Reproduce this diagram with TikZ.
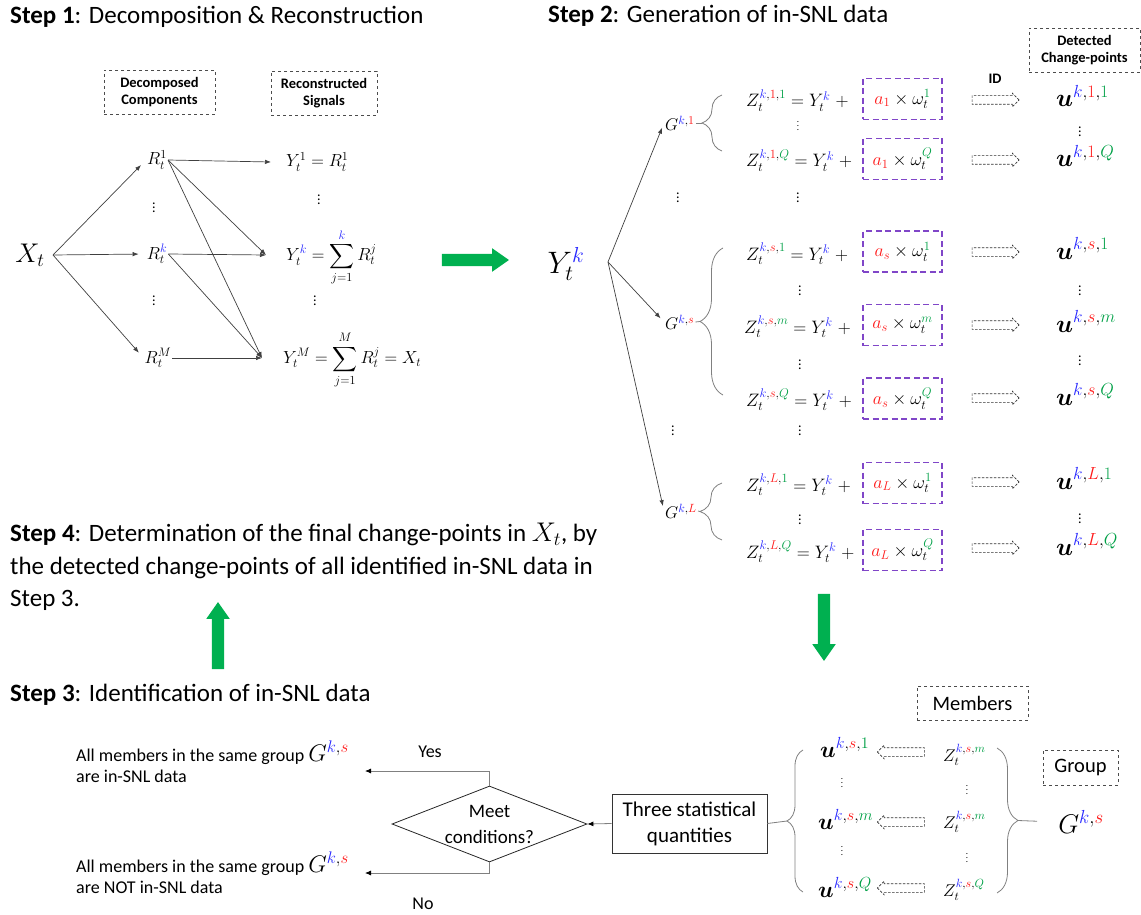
\RequirePackage{fix-cm}
\documentclass[tikz,border=0pt]{standalone}
\usepackage{amsmath}
\usepackage{fontspec}
\setmainfont{Carlito}
\usetikzlibrary{arrows.meta,shapes.geometric,shapes.arrows,decorations.pathreplacing}

\definecolor{kblue}{RGB}{40,40,255}
\definecolor{sred}{RGB}{255,25,25}
\definecolor{qgreen}{RGB}{0,160,70}
\definecolor{boxpurple}{RGB}{128,70,200}
\definecolor{stepgreen}{RGB}{0,176,80}

\newcommand{\blu}[1]{{\color{kblue}#1}}
\newcommand{\rdd}[1]{{\color{sred}#1}}
\newcommand{\grn}[1]{{\color{qgreen}#1}}

\tikzset{
	steptitle/.style={anchor=west, inner sep=0pt, font=\fontsize{25}{31}\selectfont},
	namebox/.style={draw=black!70, dashed, align=center, inner sep=3pt, font=\fontsize{14.5}{17}\selectfont\bfseries},
	tagbox/.style={draw=black!70, dashed, inner sep=3pt, font=\fontsize{20.5}{24}\selectfont},
	conn/.style={draw=black!75, line width=0.7pt, -{Latex[length=6pt,width=4.5pt]}},
	grpline/.style={draw=black!50, line width=0.8pt},
	grpbrace/.style={draw=black!50, line width=0.8pt, decorate, decoration={brace, amplitude=#1}},
	vd/.style={inner sep=0pt, font=\fontsize{14}{14}\selectfont},
	vdsmall/.style={inner sep=0pt, font=\fontsize{9}{9}\selectfont},
	comp/.style={inner sep=1pt, font=\fontsize{17.5}{17.5}\selectfont},
	grp/.style={inner sep=1pt, font=\fontsize{17}{17}\selectfont},
	zeq/.style={inner sep=1pt, anchor=base west, font=\fontsize{18}{18}\selectfont},
	cpt/.style={inner sep=1pt, anchor=base west, font=\fontsize{25}{25}\selectfont},
	cptsm/.style={cpt, font=\fontsize{23}{23}\selectfont},
	zsm/.style={inner sep=1pt, anchor=base west, font=\fontsize{17}{17}\selectfont},
	noisebox/.style={draw=boxpurple, line width=1.6pt, dash pattern=on 6pt off 3.5pt, minimum width=79pt, minimum height=41pt, inner sep=0pt, font=\fontsize{18}{20}\selectfont},
	idarrow/.style={single arrow, draw=black!80, line width=0.6pt, dash pattern=on 2.5pt off 1.5pt, minimum height=47pt, minimum width=13pt, single arrow head extend=2.5pt, inner sep=4pt},
	idarrowleft/.style={idarrow, shape border rotate=180},
	bigarrow/.style={single arrow, fill=stepgreen, minimum height=67pt, minimum width=23pt, single arrow head extend=5.5pt, single arrow tip angle=70, inner sep=6pt},
	statbox/.style={draw=black!80, line width=0.8pt, minimum width=155pt, minimum height=59pt, align=center, inner sep=0pt, font=\fontsize{21}{26}\selectfont},
	cond/.style={diamond, draw=black!85, line width=0.8pt, minimum width=195pt, minimum height=76pt, inner sep=0pt},
	condtext/.style={align=center, inner sep=0pt, font=\fontsize{19}{26}\selectfont},
	flow/.style={draw=black!50, line width=0.8pt, -{Latex[length=6pt,width=5pt,color=black]}},
	flowlabel/.style={inner sep=0pt, font=\fontsize{18}{22}\selectfont},
	outtext/.style={anchor=west, align=left, inner sep=0pt, font=\fontsize{18}{21}\selectfont}
}

\begin{document}
\begin{tikzpicture}[x=1pt,y=-1pt]
	\useasboundingbox (0,0) rectangle (1141,915);

	\node[steptitle] (title1) at (10,17) {\textbf{Step 1}: Decomposition \& Reconstruction};
	\node[namebox, minimum width=111pt, minimum height=44pt] (decbox) at (159.5,92) {Decomposed\\Components};
	\node[namebox, minimum width=106pt, minimum height=44pt] (recbox) at (324,93) {Reconstructed\\Signals};

	\node[inner sep=1pt, font=\fontsize{27}{27}\selectfont] (xt) at (30,255) {$X_t$};
	\coordinate (xsplit) at (53,255);
	\node[comp] (r1) at (157,160) {$R_t^1$};
	\node[comp] (rk) at (157,254) {$R_t^{\blu{k}}$};
	\node[comp] (rm) at (158,358) {$R_t^M$};
	\node[vd] (rv1) at (154,205) {$\vdots$};
	\node[vd] (rv2) at (154,298) {$\vdots$};
	\draw[conn, shorten >=7pt] (xsplit) -- (r1.west);
	\draw[conn, shorten >=7pt] (xsplit) -- (rk.west);
	\draw[conn, shorten >=7pt] (xsplit) -- (rm.west);

	\node[comp, anchor=west] (y1) at (285,162) {$Y_t^1 = R_t^1$};
	\node[comp, anchor=west] (yk) at (285,257) {$\displaystyle Y_t^{\blu{k}} = \sum_{j=1}^{\blu{k}} R_t^j$};
	\node[comp, anchor=west] (ym) at (282,360) {$\displaystyle Y_t^M = \sum_{j=1}^{M} R_t^j = X_t$};
	\node[vd] (yv1) at (319,197) {$\vdots$};
	\node[vd] (yv2) at (315,298) {$\vdots$};
	\coordinate (y1in) at (271,162);
	\coordinate (ykin) at (266,255);
	\coordinate (ymin) at (262,358);
	\draw[conn] (r1.east) -- (y1in);
	\draw[conn] (r1.east) -- (ykin);
	\draw[conn] (r1.east) -- (ymin);
	\draw[conn] (rk.east) -- (ykin);
	\draw[conn] (rk.east) -- (ymin);
	\draw[conn] (rm.east) -- (ymin);

	\node[bigarrow] (go12) at (471,260) {};

	\node[steptitle] (title2) at (548,16) {\textbf{Step 2}: Generation of in-SNL data};
	\node[namebox, minimum width=111pt, minimum height=44pt] (detbox) at (1084.5,50) {Detected\\Change-points};
	\node[inner sep=0pt, font=\fontsize{14.5}{17}\selectfont\bfseries] (idlabel) at (995,79) {ID};

	\node[inner sep=1pt, font=\fontsize{31}{31}\selectfont] (ytk) at (566,264) {$Y_t^{\blu{k}}$};
	\coordinate (ysplit) at (608,262);
	\node[grp, anchor=west] (g1) at (664,123) {$G^{\blu{k},\rdd{1}}$};
	\node[grp, anchor=west] (gs) at (664,322) {$G^{\blu{k},\rdd{s}}$};
	\node[grp, anchor=west] (gl) at (664,511) {$G^{\blu{k},\rdd{L}}$};
	\node[vd] (gv1) at (678,195) {$\vdots$};
	\node[vd] (gv2) at (673,428) {$\vdots$};
	\draw[conn, shorten >=5pt] (ysplit) -- (g1.west);
	\draw[conn, shorten >=5pt] (ysplit) -- (gs.west);
	\draw[conn, shorten >=5pt] (ysplit) -- (gl.west);

	\coordinate (b1tip) at (702,123);
	\coordinate (bstip) at (700,321.5);
	\coordinate (bltip) at (700,511.5);
	\draw[grpbrace=20pt] (722,151) -- (722,95);
	\draw[grpbrace=23pt] (723,395) -- (723,248);
	\draw[grpbrace=22pt] (722,540) -- (722,483);
	\draw[grpline] (g1.east) -- (b1tip);
	\draw[grpline] (gs.east) -- (bstip);
	\draw[grpline] (gl.east) -- (bltip);

	\node[zeq] (z11) at (745,107) {$Z_t^{\blu{k},\rdd{1},\grn{1}} = Y_t^{\blu{k}}\;+$};
	\node[noisebox] (n11) at (902.5,99) {$\rdd{a_1}\times\omega_t^{\grn{1}}$};
	\node[idarrow] (id11) at (993.5,100) {};
	\node[cpt] (u11) at (1055,107) {$\boldsymbol{u}^{\blu{k},\rdd{1},\grn{1}}$};
	\node[vdsmall] (zv11) at (798,123) {$\vdots$};
	\node[vd] (uv11) at (1080,129) {$\vdots$};
	\node[zeq] (z1q) at (745,167) {$Z_t^{\blu{k},\rdd{1},\grn{Q}} = Y_t^{\blu{k}}\;+$};
	\node[noisebox] (n1q) at (902.5,159) {$\rdd{a_1}\times\omega_t^{\grn{Q}}$};
	\node[idarrow] (id1q) at (993.5,160) {};
	\node[cpt] (u1q) at (1055,167) {$\boldsymbol{u}^{\blu{k},\rdd{1},\grn{Q}}$};
	\node[vd] (zv12) at (798,195) {$\vdots$};

	\node[zeq] (zs1) at (745,260) {$Z_t^{\blu{k},\rdd{s},\grn{1}} = Y_t^{\blu{k}}\;+$};
	\node[noisebox] (ns1) at (902.5,251.5) {$\rdd{a_s}\times\omega_t^{\grn{1}}$};
	\node[idarrow] (ids1) at (993.5,252) {};
	\node[cpt] (us1) at (1055,259) {$\boldsymbol{u}^{\blu{k},\rdd{s},\grn{1}}$};
	\node[vd] (zvs1) at (800,288) {$\vdots$};
	\node[vd] (uvs1) at (1080,288) {$\vdots$};
	\node[zeq] (zsm) at (743,333) {$Z_t^{\blu{k},\rdd{s},\grn{m}} = Y_t^{\blu{k}}\;+$};
	\node[noisebox] (nsm) at (902.5,325) {$\rdd{a_s}\times\omega_t^{\grn{m}}$};
	\node[idarrow] (idsm) at (993.5,325) {};
	\node[cpt] (usm) at (1055,332) {$\boldsymbol{u}^{\blu{k},\rdd{s},\grn{m}}$};
	\node[vd] (zvs2) at (800,362) {$\vdots$};
	\node[vd] (uvs2) at (1080,358) {$\vdots$};
	\node[zeq] (zsq) at (745,406) {$Z_t^{\blu{k},\rdd{s},\grn{Q}} = Y_t^{\blu{k}}\;+$};
	\node[noisebox] (nsq) at (902.5,398.5) {$\rdd{a_s}\times\omega_t^{\grn{Q}}$};
	\node[idarrow] (idsq) at (993.5,398) {};
	\node[cpt] (usq) at (1055,405) {$\boldsymbol{u}^{\blu{k},\rdd{s},\grn{Q}}$};
	\node[vd] (zvs3) at (800,428) {$\vdots$};

	\node[zeq] (zl1) at (745,491) {$Z_t^{\blu{k},\rdd{L},\grn{1}} = Y_t^{\blu{k}}\;+$};
	\node[noisebox] (nl1) at (902.5,483) {$\rdd{a_L}\times\omega_t^{\grn{1}}$};
	\node[idarrow] (idl1) at (993.5,482) {};
	\node[cpt] (ul1) at (1055,489) {$\boldsymbol{u}^{\blu{k},\rdd{L},\grn{1}}$};
	\node[vd] (zvl1) at (800,517) {$\vdots$};
	\node[vd] (uvl1) at (1080,516) {$\vdots$};
	\node[zeq] (zlq) at (745,558) {$Z_t^{\blu{k},\rdd{L},\grn{Q}} = Y_t^{\blu{k}}\;+$};
	\node[noisebox] (nlq) at (902.5,550) {$\rdd{a_L}\times\omega_t^{\grn{Q}}$};
	\node[idarrow] (idlq) at (993.5,548) {};
	\node[cpt] (ulq) at (1055,555) {$\boldsymbol{u}^{\blu{k},\rdd{L},\grn{Q}}$};

	\node[bigarrow, shape border rotate=270] (go23) at (824,623) {};

	\node[anchor=west, align=left, inner sep=0pt, font=\fontsize{25}{32.5}\selectfont] (title4) at (10,567) {\textbf{Step 4}: Determination of the final change-points in {\fontsize{27}{27}\selectfont$X_t$}, by\\the detected change-points of all identified in-SNL data in\\Step 3.};
	\node[bigarrow, shape border rotate=90] (go34) at (218,640) {};
	\node[steptitle] (title3) at (10,695) {\textbf{Step 3}: Identification of in-SNL data};

	\node[tagbox, minimum width=111pt, minimum height=34pt] (membox) at (972.5,703) {Members};
	\node[tagbox, minimum width=75pt, minimum height=35pt] (grpbox) at (1080.5,767.5) {Group};
	\node[cptsm] (bu1) at (819,757) {$\boldsymbol{u}^{\blu{k},\rdd{s},\grn{1}}$};
	\node[cptsm] (bum) at (817,829) {$\boldsymbol{u}^{\blu{k},\rdd{s},\grn{m}}$};
	\node[cptsm] (buq) at (817,897) {$\boldsymbol{u}^{\blu{k},\rdd{s},\grn{Q}}$};
	\node[vdsmall] (buv1) at (842,780) {$\vdots$};
	\node[vdsmall] (buv2) at (842,848) {$\vdots$};
	\node[idarrowleft] (ia1) at (903,752) {};
	\node[idarrowleft] (ia2) at (903,822) {};
	\node[idarrowleft] (ia3) at (903,888) {};
	\node[zsm] (bz1) at (942,761) {$Z_t^{\blu{k},\rdd{s},\grn{m}}$};
	\node[zsm] (bzm) at (942,828) {$Z_t^{\blu{k},\rdd{s},\grn{m}}$};
	\node[zsm] (bzq) at (942,896) {$Z_t^{\blu{k},\rdd{s},\grn{Q}}$};
	\node[vdsmall] (bzv1) at (967,787) {$\vdots$};
	\node[vdsmall] (bzv2) at (967,855) {$\vdots$};
	\node[inner sep=1pt, font=\fontsize{27}{27}\selectfont] (gbig) at (1081,822) {$G^{\blu{k},\rdd{s}}$};
	\coordinate (lbtip) at (787,821);
	\coordinate (rbtip) at (1018,820.5);
	\draw[grpbrace=16pt] (803,892) -- (803,750);
	\draw[grpbrace=21pt] (997,748) -- (997,893);
	\draw[grpline, shorten >=20pt] (rbtip) -- (gbig.west);

	\node[statbox] (stats) at (689.5,823.5) {Three statistical\\quantities};
	\draw[grpline] (stats.east) -- (lbtip);
	\node[cond, label={[condtext]center:Meet\\conditions?}] (cond) at (489.5,824) {};
	\draw[flow] (stats.west) -- (cond.east);
	\coordinate (yesend) at (365,771);
	\coordinate (noend) at (365,873);
	\draw[flow] (cond.north) |- (yesend);
	\draw[flow] (cond.south) |- (noend);
	\node[flowlabel] (yes) at (430,752) {Yes};
	\node[flowlabel] (no) at (423,904) {No};
	\node[outtext] (intext) at (76,762) {All members in the same group {\fontsize{24}{21}\selectfont$G^{\blu{k},\rdd{s}}$}\\are in-SNL data};
	\node[outtext] (nottext) at (76,873) {All members in the same group {\fontsize{24}{21}\selectfont$G^{\blu{k},\rdd{s}}$}\\are NOT in-SNL data};
\end{tikzpicture}
\end{document}
